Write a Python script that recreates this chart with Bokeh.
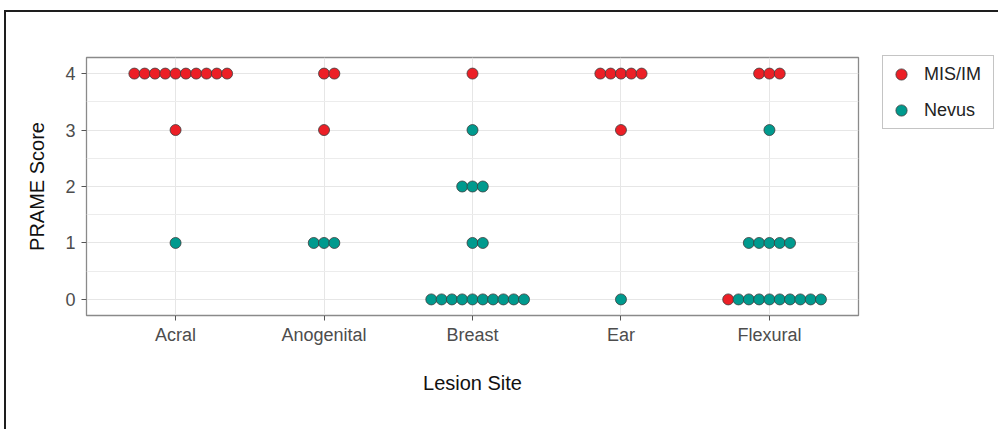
from bokeh.plotting import figure
from bokeh.models import FixedTicker, Legend, LegendItem, ColumnDataSource
from bokeh.embed import file_html
from bokeh.resources import INLINE

# ---- data ----
sites = ["Acral", "Anogenital", "Breast", "Ear", "Flexural"]
score_values = [0, 1, 2, 3, 4]
# counts of lesions per PRAME score, per site (order of `sites`)
mis_im_0 = [0, 0, 0, 0, 1]
mis_im_1 = [0, 0, 0, 0, 0]
mis_im_2 = [0, 0, 0, 0, 0]
mis_im_3 = [1, 1, 0, 1, 0]
mis_im_4 = [10, 2, 1, 5, 3]
nevus_0 = [0, 0, 10, 1, 9]
nevus_1 = [1, 3, 2, 0, 5]
nevus_2 = [0, 0, 3, 0, 0]
nevus_3 = [0, 0, 1, 0, 1]
nevus_4 = [0, 0, 0, 0, 0]

mis_counts = [mis_im_0, mis_im_1, mis_im_2, mis_im_3, mis_im_4]
nev_counts = [nevus_0, nevus_1, nevus_2, nevus_3, nevus_4]

RED = "#EC1F26"
TEAL = "#009A8E"
FONT = "Liberation Sans"
STEP = 0.0694  # dot stacking width in x data units

mis_x, mis_y, nev_x, nev_y = [], [], [], []
for i, site in enumerate(sites):
    for s_idx, sc in enumerate(score_values):
        m = mis_counts[s_idx][i]
        n = nev_counts[s_idx][i]
        total = m + n
        if total == 0:
            continue
        start = -((total - 1) // 2)
        for j in range(total):
            xx = (i + 1) + (start + j) * STEP
            if j < m:
                mis_x.append(xx); mis_y.append(sc)
            else:
                nev_x.append(xx); nev_y.append(sc)

p = figure(width=None, height=None, output_backend="svg", toolbar_location=None,
           x_range=(0.4, 5.6), y_range=(-0.285, 4.285),
           frame_width=772, frame_height=258,
           min_border_left=80, min_border_top=45, min_border_right=139, min_border_bottom=114,
           background_fill_color="white", border_fill_color="white")
p.styles = {"position": "relative", "left": "4px", "top": "10px",
            "border-top": "2px solid #1e1e1e", "border-left": "2px solid #1e1e1e"}

p.outline_line_color = "#8a8a8a"
p.outline_line_width = 1.3

p.xaxis.ticker = FixedTicker(ticks=[1, 2, 3, 4, 5])
p.xaxis.major_label_overrides = {i + 1: s for i, s in enumerate(sites)}
p.yaxis.ticker = FixedTicker(ticks=score_values, minor_ticks=[-0.5, 0.5, 1.5, 2.5, 3.5])
p.xgrid.ticker = FixedTicker(ticks=[1, 2, 3, 4, 5])

for ax in (p.xaxis, p.yaxis):
    ax.axis_line_color = None
    ax.major_tick_line_color = "#555555"
    ax.major_tick_out = 5
    ax.major_tick_in = 0
    ax.minor_tick_line_color = None
    ax.major_label_text_font = FONT
    ax.major_label_text_font_size = "18px"
    ax.major_label_text_color = "#4d4d4d"
    ax.axis_label_text_font = FONT
    ax.axis_label_text_font_size = "20px"
    ax.axis_label_text_font_style = "normal"
    ax.axis_label_text_color = "#111111"

p.xaxis.axis_label = "Lesion Site"
p.yaxis.axis_label = "PRAME Score"
p.xaxis.major_label_standoff = 4
p.yaxis.major_label_standoff = 6
p.xaxis.axis_label_standoff = 24
p.yaxis.axis_label_standoff = 14

p.xgrid.grid_line_color = "#e6e6e6"
p.ygrid.grid_line_color = "#e6e6e6"
p.ygrid.minor_grid_line_color = "#ececec"
p.xgrid.grid_line_width = 1
p.ygrid.grid_line_width = 1

r_mis = p.scatter(x="x", y="y", source=ColumnDataSource(dict(x=mis_x, y=mis_y)),
                  size=11, fill_color=RED, line_color="#3c3c3c", line_width=0.8)
r_nev = p.scatter(x="x", y="y", source=ColumnDataSource(dict(x=nev_x, y=nev_y)),
                  size=11, fill_color=TEAL, line_color="#3c3c3c", line_width=0.8)

legend = Legend(items=[LegendItem(label="MIS/IM", renderers=[r_mis]),
                       LegendItem(label="Nevus", renderers=[r_nev])],
                location=(24, 186))
legend.border_line_color = "#8a8a8a"
legend.border_line_width = 1.2
legend.background_fill_color = "white"
legend.background_fill_alpha = 1
legend.label_text_font = FONT
legend.label_text_font_size = "18px"
legend.label_text_color = "#222222"
legend.glyph_width = 28
legend.glyph_height = 28
legend.label_height = 28
legend.label_width = 65
legend.label_standoff = 9
legend.spacing = 8
legend.padding = 4
legend.margin = 0
p.add_layout(legend, "right")

open("out.html", "w").write(file_html(p, INLINE))
